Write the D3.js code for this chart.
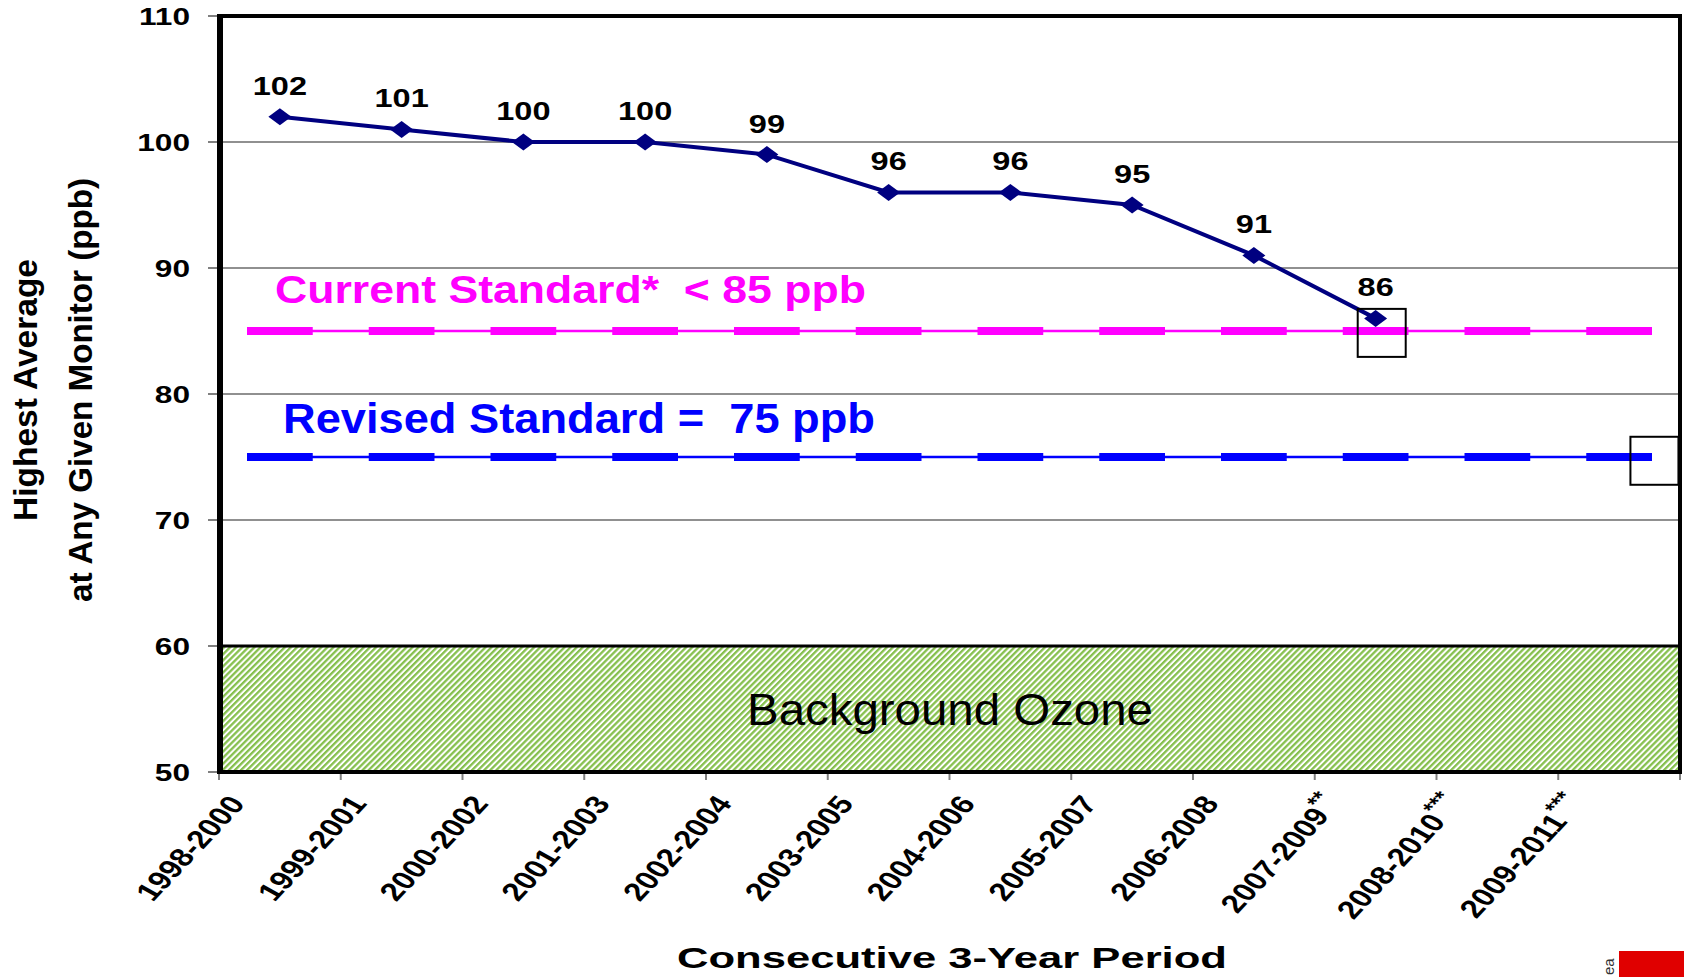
<html>
  <head>
    <meta charset="utf-8">
    <title>Ozone 3-year averages</title>
<style>
body {
  margin: 0;
  background: #fff;
}
text {
  font-family: 'Liberation Sans', Arial, sans-serif;
}
.pre {
  white-space: pre;
}
</style>
  </head>
  <body>
  <div id="chart"></div>

    <script src="https://d3js.org/d3.v7.min.js"></script>
    <script>

    // chart values
    var periods = ["1998-2000", "1999-2001", "2000-2002", "2001-2003", "2002-2004", "2003-2005",
                   "2004-2006", "2005-2007", "2006-2008", "2007-2009", "2008-2010", "2009-2011"];
    var footnotes = ["", "", "", "", "", "", "", "", "", "**", "***", "***"];
    var highest = [102, 101, 100, 100, 99, 96, 96, 95, 91, 86, null, null];
    var yTicks = [50, 60, 70, 80, 90, 100, 110];
    var gridValues = [70, 80, 90, 100];
    var standardLabels = ["Current Standard*  < 85 ppb", "Revised Standard =  75 ppb"];
    var standardValues = [85, 75];
    var standardColors = ["#ff00ff", "#0000ff"];
    var backgroundRange = [50, 60];
    var backgroundLabel = "Background Ozone";
    // the two stray empty square markers (position in category units, value)
    var boxPos = [9.55, 11.79];
    var boxValues = [84.85, 74.7];

    var width = 1684, height = 977;
    var pLeft = 219, pRight = 1680, pTop = 16, pBottom = 772;

    var svg = d3.select("#chart").append("svg")
      .attr("width", width)
      .attr("height", height);

    var x = d3.scaleBand()
      .domain(periods)
      .range([pLeft, pRight])
      .padding(0);

    var xLin = d3.scaleLinear()
      .domain([0, periods.length])
      .range([pLeft, pRight]);

    var y = d3.scaleLinear()
      .domain([50, 110])
      .range([pBottom, pTop]);

    var bw = x.bandwidth();
    function cx(p) { return x(p) + bw / 2; }

    // hatch pattern for the background band
    var defs = svg.append("defs");
    var pat = defs.append("pattern")
      .attr("id", "hatch")
      .attr("patternUnits", "userSpaceOnUse")
      .attr("width", 4.3)
      .attr("height", 4.3)
      .attr("patternTransform", "rotate(45)");
    pat.append("rect").attr("width", 4.3).attr("height", 4.3).attr("fill", "#ffffff");
    pat.append("rect").attr("width", 2.3).attr("height", 4.3).attr("fill", "#86c04e");

    // gridlines
    svg.selectAll(".grid")
      .data(gridValues)
      .enter().append("line")
      .attr("class", "grid")
      .attr("x1", pLeft).attr("x2", pRight)
      .attr("y1", function(d) { return y(d); })
      .attr("y2", function(d) { return y(d); })
      .attr("stroke", "#222")
      .attr("stroke-width", 1.2);

    // background ozone band
    svg.append("rect")
      .attr("x", pLeft)
      .attr("y", y(backgroundRange[1]))
      .attr("width", pRight - pLeft)
      .attr("height", y(backgroundRange[0]) - y(backgroundRange[1]))
      .attr("fill", "url(#hatch)");
    svg.append("line")
      .attr("x1", pLeft).attr("x2", pRight)
      .attr("y1", y(backgroundRange[1])).attr("y2", y(backgroundRange[1]))
      .attr("stroke", "#000")
      .attr("stroke-width", 3);
    svg.append("text")
      .attr("x", 950)
      .attr("y", 725)
      .attr("text-anchor", "middle")
      .attr("font-size", 44)
      .attr("textLength", 406)
      .attr("lengthAdjust", "spacingAndGlyphs")
      .attr("fill", "#000")
      .text(backgroundLabel);

    // standard lines: thin line with a thick dash on every period
    standardValues.forEach(function(v, i) {
      var g = svg.append("g");
      g.append("line")
        .attr("x1", cx(periods[0]) - bw * 0.27)
        .attr("x2", cx(periods[periods.length - 1]) + bw * 0.27)
        .attr("y1", y(v)).attr("y2", y(v))
        .attr("stroke", standardColors[i])
        .attr("stroke-width", 2.5);
      g.selectAll("rect")
        .data(periods)
        .enter().append("rect")
        .attr("x", function(d) { return cx(d) - bw * 0.27; })
        .attr("y", y(v) - 4)
        .attr("width", bw * 0.54)
        .attr("height", 8)
        .attr("fill", standardColors[i]);
    });

    svg.append("text")
      .attr("class", "pre")
      .attr("x", 275)
      .attr("y", 303)
      .attr("font-size", 39)
      .attr("font-weight", "bold")
      .attr("textLength", 591)
      .attr("lengthAdjust", "spacingAndGlyphs")
      .attr("fill", standardColors[0])
      .text(standardLabels[0]);

    svg.append("text")
      .attr("class", "pre")
      .attr("x", 283)
      .attr("y", 433)
      .attr("font-size", 42)
      .attr("font-weight", "bold")
      .attr("textLength", 592)
      .attr("lengthAdjust", "spacingAndGlyphs")
      .attr("fill", standardColors[1])
      .text(standardLabels[1]);

    // data series
    var pts = periods.map(function(p, i) { return {period: p, value: highest[i]}; })
      .filter(function(d) { return d.value != null; });

    var line = d3.line()
      .x(function(d) { return cx(d.period); })
      .y(function(d) { return y(d.value); });

    svg.append("path")
      .datum(pts)
      .attr("d", line)
      .attr("fill", "none")
      .attr("stroke", "#000080")
      .attr("stroke-width", 4);

    svg.selectAll(".pt")
      .data(pts)
      .enter().append("path")
      .attr("class", "pt")
      .attr("d", "M0,-8.5L11.5,0L0,8.5L-11.5,0Z")
      .attr("transform", function(d) { return "translate(" + cx(d.period) + "," + y(d.value) + ")"; })
      .attr("fill", "#000080");

    svg.selectAll(".val")
      .data(pts)
      .enter().append("text")
      .attr("class", "val")
      .attr("transform", function(d) { return "translate(" + cx(d.period) + "," + (y(d.value) - 22) + ") scale(1.25,1)"; })
      .attr("text-anchor", "middle")
      .attr("font-size", 26)
      .attr("font-weight", "bold")
      .attr("fill", "#000")
      .text(function(d) { return d.value; });

    // empty square markers
    svg.selectAll(".box")
      .data(boxPos)
      .enter().append("rect")
      .attr("class", "box")
      .attr("x", function(d) { return xLin(d) - 24; })
      .attr("y", function(d, i) { return y(boxValues[i]) - 24; })
      .attr("width", 48)
      .attr("height", 48)
      .attr("fill", "none")
      .attr("stroke", "#000")
      .attr("stroke-width", 2);

    // y ticks and labels
    svg.selectAll(".ytick")
      .data(yTicks)
      .enter().append("line")
      .attr("class", "ytick")
      .attr("x1", 208).attr("x2", pLeft)
      .attr("y1", function(d) { return y(d); })
      .attr("y2", function(d) { return y(d); })
      .attr("stroke", "#808080")
      .attr("stroke-width", 2);

    svg.selectAll(".ylab")
      .data(yTicks)
      .enter().append("text")
      .attr("class", "ylab")
      .attr("transform", function(d) { return "translate(190," + (y(d) + 9) + ") scale(1.32,1)"; })
      .attr("text-anchor", "end")
      .attr("font-size", 24)
      .attr("font-weight", "bold")
      .attr("fill", "#000")
      .text(function(d) { return d; });

    // x ticks at period boundaries
    svg.selectAll(".xtick")
      .data(d3.range(periods.length + 1))
      .enter().append("line")
      .attr("class", "xtick")
      .attr("x1", function(d) { return xLin(d); })
      .attr("x2", function(d) { return xLin(d); })
      .attr("y1", pBottom).attr("y2", pBottom + 8)
      .attr("stroke", "#808080")
      .attr("stroke-width", 2);

    var xlab = svg.selectAll(".xlab")
      .data(periods)
      .enter().append("text")
      .attr("class", "xlab")
      .attr("transform", function(d) { return "translate(" + (x(d) + 27) + ",804) scale(1.3,1) rotate(-54)"; })
      .attr("text-anchor", "end")
      .attr("font-size", 25.5)
      .attr("font-weight", "bold")
      .attr("fill", "#000");
    xlab.append("tspan").text(function(d) { return d; });
    xlab.append("tspan")
      .attr("font-size", 19)
      .attr("dy", -11)
      .text(function(d, i) { return footnotes[i]; });

    // plot frame
    svg.append("rect")
      .attr("x", pLeft)
      .attr("y", pTop)
      .attr("width", pRight - pLeft)
      .attr("height", pBottom - pTop)
      .attr("fill", "none")
      .attr("stroke", "#000")
      .attr("stroke-width", 4);
    svg.append("line")
      .attr("x1", pLeft + 1).attr("x2", pLeft + 1)
      .attr("y1", pTop).attr("y2", pBottom)
      .attr("stroke", "#000")
      .attr("stroke-width", 6);

    // axis titles
    svg.append("text")
      .attr("x", 952)
      .attr("y", 968)
      .attr("text-anchor", "middle")
      .attr("font-size", 30)
      .attr("font-weight", "bold")
      .attr("textLength", 550)
      .attr("lengthAdjust", "spacingAndGlyphs")
      .attr("fill", "#000")
      .text("Consecutive 3-Year Period");

    svg.append("text")
      .attr("transform", "translate(37,390) rotate(-90)")
      .attr("text-anchor", "middle")
      .attr("font-size", 34)
      .attr("font-weight", "bold")
      .attr("textLength", 262)
      .attr("lengthAdjust", "spacingAndGlyphs")
      .attr("fill", "#000")
      .text("Highest Average");

    svg.append("text")
      .attr("transform", "translate(92,390) rotate(-90)")
      .attr("text-anchor", "middle")
      .attr("font-size", 34)
      .attr("font-weight", "bold")
      .attr("textLength", 424)
      .attr("lengthAdjust", "spacingAndGlyphs")
      .attr("fill", "#000")
      .text("at Any Given Monitor (ppb)");

    // cut-off slide footer in the corner
    svg.append("rect")
      .attr("x", 1619)
      .attr("y", 951)
      .attr("width", 65)
      .attr("height", 26)
      .attr("fill", "#e00000");
    svg.append("text")
      .attr("transform", "translate(1614,975) rotate(-90)")
      .attr("font-size", 15)
      .attr("fill", "#333")
      .text("ea");

     </script>
  </body>
</html>
